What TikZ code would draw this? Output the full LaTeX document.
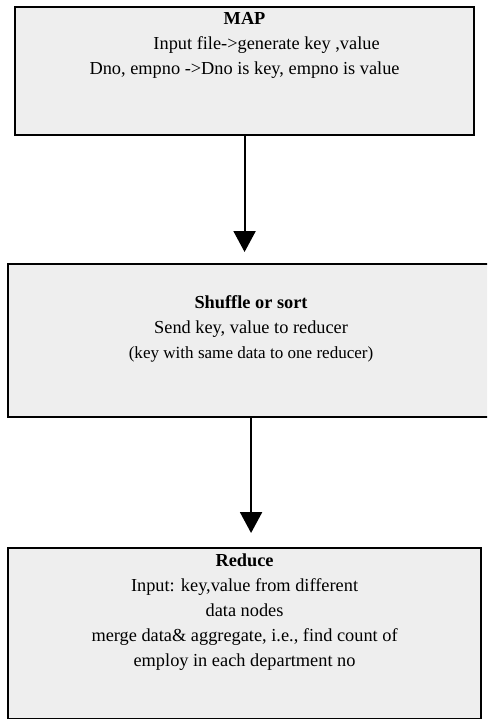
\documentclass[tikz,border=0pt]{standalone}
\usepackage{fontspec}
\setmainfont{Liberation Serif}
\usetikzlibrary{positioning,arrows.meta}
\definecolor{boxgray}{HTML}{EEEEEE}
\newcommand{\px}{0.75pt}
\tikzset{
  stagebox/.style={rectangle,draw,ultra thick,fill=boxgray,inner sep=0pt,anchor=north west},
  stagetext/.style={align=center,inner sep=0pt,font=\fontsize{13.75}{18.75}\selectfont},
  flowarrow/.style={-{Triangle[length=15.75pt,width=16.5pt]},ultra thick},
}
\begin{document}
\begin{tikzpicture}[x=0.75pt,y=-0.75pt]
    \useasboundingbox (0,0) rectangle (487,719);
    \clip (0,0) rectangle (487,719);
    \node[stagebox,minimum width=459*\px,minimum height=128*\px] (map) at (14,6) {};
    \node[stagebox,minimum width=486*\px,minimum height=153*\px] (shuffle) at (7,263) {};
    \node[stagebox,minimum width=473*\px,minimum height=171*\px] (reduce) at (7,547) {};

    \node[stagetext,below=6.5*\px] (map_t) at (map.north) {\textbf{MAP}\\
      \hspace*{33pt}Input file->generate key ,value\\
      Dno, empno ->Dno is key, empno is value};
    \node[stagetext,below=32.5*\px] (shuffle_t) at (shuffle.north) {\textbf{Shuffle or sort}\\
      Send key, value to reducer\\
      {\fontsize{12.8}{18.75}\selectfont (key with same data to one reducer)}};
    \node[stagetext,below=6.5*\px] (reduce_t) at (reduce.north) {\textbf{Reduce}\\
      Input: key,value from different\\
      data nodes\\
      merge data\& aggregate, i.e., find count of\\
      employ in each department no};

    \draw[flowarrow,shorten >=8.25pt] (map.south) -- (map.south |- shuffle.north) ;
    \draw[flowarrow,shorten >=10.5pt] (shuffle.south) -- (shuffle.south |- reduce.north) ;
\end{tikzpicture}
\end{document}
